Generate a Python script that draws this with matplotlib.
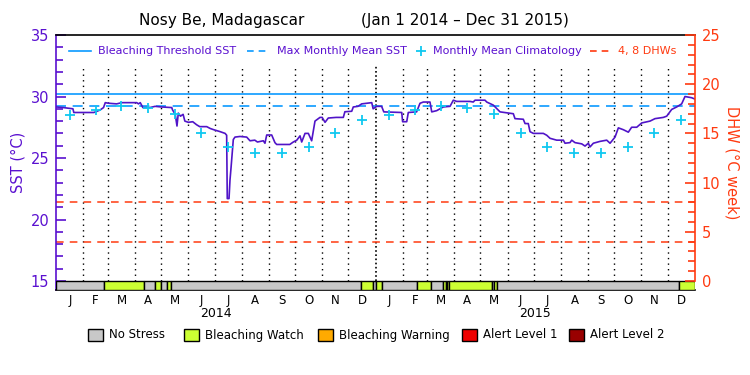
import numpy as np
import matplotlib.pyplot as plt
from matplotlib.lines import Line2D
from matplotlib.patches import Rectangle

W, H = 750, 375


def fx(px):
    return px / W


def fy(py):
    return 1 - py / H


# SST trace, days since 2014-01-01
sst_day = [0, 8, 19, 20, 43, 50, 54, 56, 60, 69, 75, 92, 94, 96, 99, 107, 113, 120,
           132, 133, 136, 138, 139.5, 142, 145, 147, 151, 156, 160.5, 164, 172, 176,
           180, 187, 193, 194.8, 195.5, 197.5, 198.6, 199.8, 201.7, 202.4, 204.3, 210,
           217.7, 221.5, 227, 230, 236.7, 238.6, 240.6, 246.3, 250, 252, 267, 271, 275,
           278.7, 280.6, 284.4, 288.2, 292, 295.8, 301.5, 304, 307.3, 311, 320, 328.2,
           330, 337.8, 339.6, 345, 349.2, 355, 360.7,
           362.3, 366.4, 372, 374.5, 395, 396, 400.7, 402.5, 412, 415.9, 419.7, 427.3,
           429.3, 435, 442.5, 450.2, 454, 457.8, 473, 476.8, 478.8, 490.2, 492.2, 499.7,
           507.4, 522.6, 524.5, 534, 536, 539.7, 541.7, 545.5, 556.9, 560.8, 564.6,
           572.2, 579.8, 581.7, 587.4, 589.4, 593.1, 600.8, 604.6, 608.4, 610.3, 614.1,
           621.7, 629.4, 633.2, 638.9, 642.7, 648.4, 654.1, 657.9, 663.7, 669.4, 678.9,
           684.6, 694.1, 698, 703.7, 709.4, 715.1, 718.9, 726.5, 730]
sst_val = [29.15, 29.1, 29.0, 28.7, 28.7, 28.9, 29.1, 29.5, 29.45, 29.4, 29.5, 29.5,
           29.4, 29.5, 29.1, 29.1, 29.2, 29.15, 29.1, 28.9, 28.55, 27.6, 28.65, 28.4,
           28.55, 28.0, 27.9, 27.95, 27.7, 27.55, 27.55, 27.4, 27.3, 27.15, 27.0, 26.85,
           21.7, 21.7, 23.2, 24.2, 25.9, 26.5, 26.7, 26.75, 26.7, 26.4, 26.45, 26.3,
           26.4, 26.2, 26.87, 26.87, 26.25, 26.1, 26.1, 26.3, 26.45, 26.8, 26.3, 27.0,
           27.0, 26.4, 28.0, 28.3, 28.3, 27.9, 28.25, 28.3, 28.3, 28.76, 28.8, 29.15,
           29.2, 29.4, 29.45, 29.5,
           29.0, 29.2, 29.2, 28.75, 28.7, 27.95, 27.95, 28.7, 28.75, 29.45, 29.55,
           29.55, 28.75, 28.85, 29.15, 29.2, 29.7, 29.6, 29.6, 29.55, 29.7, 29.7, 29.55,
           29.3, 28.75, 28.6, 28.2, 28.15, 27.8, 27.8, 27.14, 27.0, 27.0, 26.85, 26.6,
           26.45, 26.45, 26.2, 26.25, 26.45, 26.25, 26.15, 25.97, 26.2, 25.9, 26.2,
           26.35, 26.45, 26.2, 26.7, 27.45, 27.3, 27.1, 27.5, 27.5, 27.85, 28.0, 28.2,
           28.3, 28.4, 28.95, 29.15, 29.4, 30.0, 29.9, 29.8]

# monthly mean climatology (Jan..Dec)
clim_val = [28.5, 28.9, 29.2, 29.1, 28.6, 27.05, 25.9, 25.4, 25.4, 25.9, 27.0, 28.1]
mmm = 29.2
threshold = 30.2
dhw_levels = [4, 8]

# stress level bar: segment start day, level index
stress_start = [0, 55, 100, 113, 120, 127, 131, 348.5, 362.3, 365.5, 373, 412, 428.7,
                442.6, 445.3, 447.1, 449.4, 498.6, 500.9, 503.6, 712.5]
stress_level = [0, 1, 0, 1, 0, 1, 0, 1, 0, 1, 0, 1, 0, 1, 0, 1, 1, 0, 1, 0, 1]
stress_names = ["No Stress", "Bleaching Watch", "Bleaching Warning",
                "Alert Level 1", "Alert Level 2"]
stress_colors = ["#c8c8c8", "#ccff33", "#ffaa00", "#ee0000", "#990000"]

month_letters = list("JFMAMJJASOND")
years = ["2014", "2015"]

purple = "#5a10d0"
linecol = "#5014c8"
red = "#ff3a10"
blue = "#0a9aff"
cyan = "#10c8f0"

months = np.arange("2014-01", "2016-02", dtype="datetime64[M]").astype("datetime64[D]")
mstart = (months - np.datetime64("2014-01-01")).astype(int)
mmid = (mstart[:-1] + mstart[1:]) / 2.0
ndays = mstart[-1]

bar_bottom = 15 - 9 / 12.3

fig = plt.figure(figsize=(7.5, 3.75), dpi=100)
ax = fig.add_axes([fx(56.3), fy(290), (694.7 - 56.3) / W, (290 - 35) / H])
ax.set_xlim(0, ndays)
ax.set_ylim(bar_bottom, 35)

# month separators
for d in mstart[1:-1]:
    if d == 365:
        ax.vlines(d, 15, 32.6, colors="k", linestyles=(0, (1, 1.5)), lw=1.2)
    else:
        ax.vlines(d, 15, 32.6, colors="k", linestyles=(0, (1, 3)), lw=1.0)

ax.axhline(threshold, color=blue, lw=1.2)
ax.axhline(mmm, color=blue, lw=1.2, dashes=(6, 4))
for lv in dhw_levels:
    ax.axhline(15 + lv * 20 / 25, color=red, lw=1.1, dashes=(5, 4))

ax.plot(sst_day, sst_val, color=linecol, lw=1.2, zorder=5)
ax.plot(mmid, clim_val * 2, ls="none", marker="+", ms=7.5, mew=1.3, color=cyan, zorder=6)

# stress bar
ends = stress_start[1:] + [ndays]
for s, e, lvl in zip(stress_start, ends, stress_level):
    ax.add_patch(Rectangle((s, bar_bottom), e - s, 15 - bar_bottom,
                           facecolor=stress_colors[lvl], edgecolor="k", lw=1.0, zorder=7))

ax.spines["left"].set_color(purple)
ax.spines["left"].set_linewidth(1.2)
ax.spines["top"].set_linewidth(1.2)
ax.spines["right"].set_visible(False)
ax.spines["bottom"].set_linewidth(1.2)

ax.set_yticks([15, 20, 25, 30, 35])
ax.set_yticks(np.arange(16, 35), minor=True)
ax.tick_params(axis="y", which="both", direction="in", color=purple, width=1.2,
               labelcolor=purple, labelsize=10.5, pad=5)
ax.tick_params(axis="y", which="major", length=7)
ax.tick_params(axis="y", which="minor", length=5)
ax.set_xticks(mmid, month_letters * 2)
ax.tick_params(axis="x", length=0, pad=3, labelsize=8.5)
ax.set_ylabel("SST (°C)", color=purple, fontsize=10.5, labelpad=4)

for i, yr in enumerate(years):
    ax.text((mstart[12 * i] + mstart[12 * i + 12]) / 2, -0.094, yr,
            transform=ax.get_xaxis_transform(), ha="center", va="center", fontsize=9)

ax2 = ax.twinx()
ax2.set_ylim((bar_bottom - 15) * 25 / 20, 25)
for side in ["left", "top", "bottom"]:
    ax2.spines[side].set_visible(False)
ax2.spines["right"].set_color(red)
ax2.spines["right"].set_linewidth(1.2)
ax2.spines["right"].set_bounds(0, 25)
ax2.set_yticks([0, 5, 10, 15, 20, 25])
ax2.set_yticks(np.arange(1, 25), minor=True)
ax2.tick_params(axis="y", which="both", direction="in", color=red, width=1.2,
                labelcolor=red, labelsize=10.5, pad=5)
ax2.tick_params(axis="y", which="major", length=7)
ax2.tick_params(axis="y", which="minor", length=5)
ax2.set_ylabel("DHW (°C week)", color=red, fontsize=10.5, rotation=-90, labelpad=14)

# title
fig.text(fx(139), fy(21), "Nosy Be, Madagascar", fontsize=11, va="center")
fig.text(fx(361), fy(21), "(Jan 1 2014 – Dec 31 2015)", fontsize=11, va="center")

# top legend
ly = fy(51)
fig.add_artist(Line2D([fx(69), fx(91)], [ly, ly], color=blue, lw=1.2))
fig.text(fx(98), ly, "Bleaching Threshold SST", color=purple, fontsize=8, va="center")
fig.add_artist(Line2D([fx(247), fx(270)], [ly, ly], color=blue, lw=1.2, dashes=(4, 3)))
fig.text(fx(277), ly, "Max Monthly Mean SST", color=purple, fontsize=8, va="center")
fig.add_artist(Line2D([fx(421)], [ly], marker="+", ms=7, mew=1.3, color=cyan))
fig.text(fx(433), ly, "Monthly Mean Climatology", color=purple, fontsize=8, va="center")
fig.add_artist(Line2D([fx(590), fx(612)], [ly, ly], color=red, lw=1.2, dashes=(4, 3)))
fig.text(fx(618), ly, "4, 8 DHWs", color=red, fontsize=8, va="center")

# stress legend
box_x = [88, 184, 318, 462, 569]
for bx, name, col in zip(box_x, stress_names, stress_colors):
    fig.add_artist(Rectangle((fx(bx), fy(341)), 15 / W, 12 / H, facecolor=col,
                             edgecolor="k", lw=1.0, transform=fig.transFigure))
    fig.text(fx(bx + 21), fy(335), name, fontsize=8.5, va="center")

fig.savefig("out.png", dpi=100)
